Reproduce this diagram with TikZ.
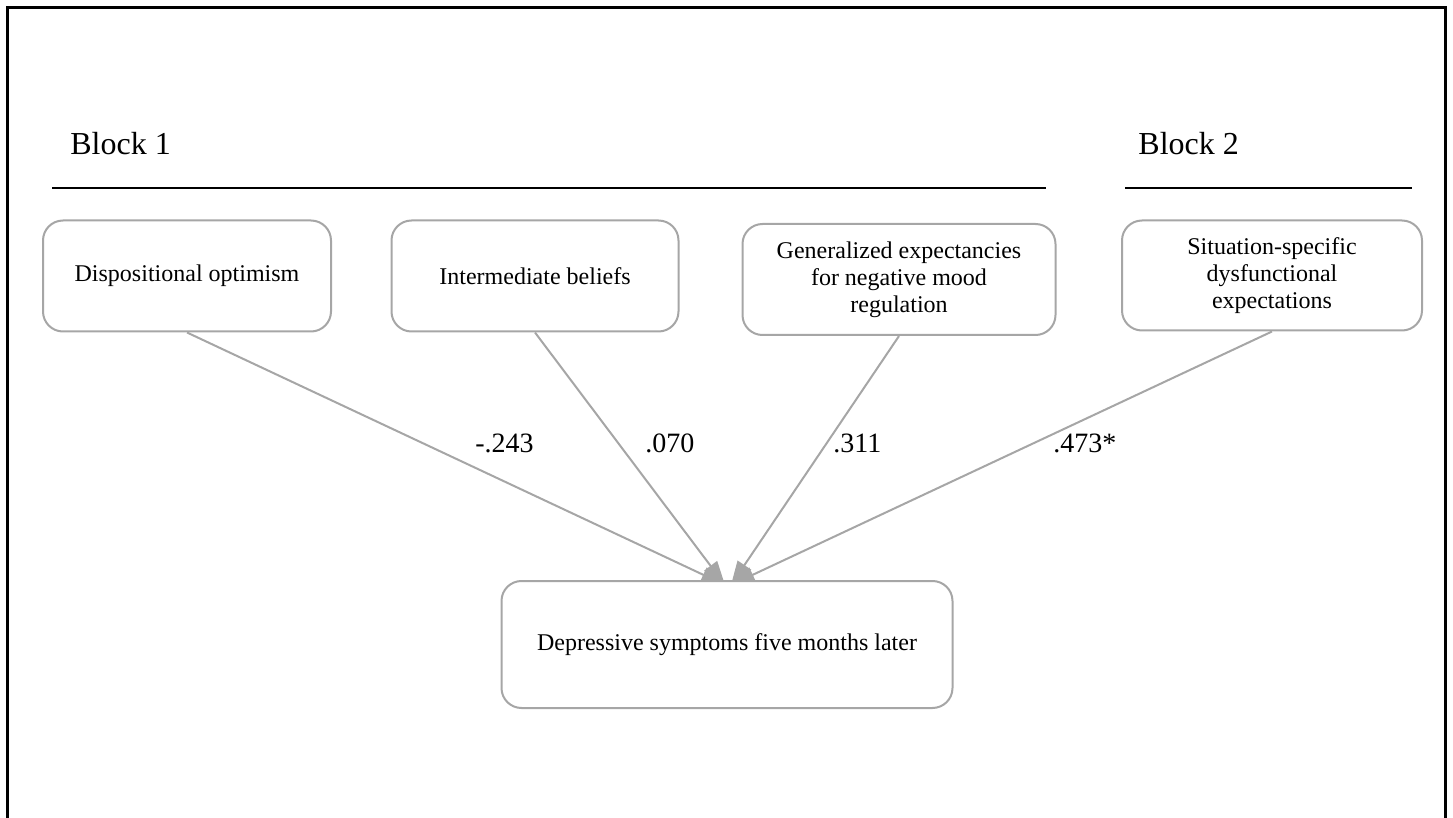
\documentclass[tikz,border=0pt]{standalone}
\usepackage{fontspec}
\setmainfont{Liberation Serif}
\usetikzlibrary{positioning}
\usetikzlibrary{arrows.meta}
\usetikzlibrary{backgrounds}

\definecolor{boxgray}{RGB}{166,166,166}
\definecolor{linegray}{RGB}{166,166,166}

\tikzset{
  varbox/.style={draw=boxgray, line width=1pt, rounded corners=10pt, fill=white, align=center, inner sep=0pt, font=\fontsize{12}{13.5}\selectfont},
  link/.style={draw=linegray, line width=1pt, -{Triangle[length=12pt,width=8pt]}},
  coef/.style={anchor=base west, inner sep=0pt, font=\fontsize{14}{16}\selectfont},
  blocklabel/.style={anchor=base west, inner sep=0pt, font=\fontsize{16}{18}\selectfont}
}

\begin{document}
\begin{tikzpicture}[x=0.5pt, y=-0.5pt]
\useasboundingbox (0,0) rectangle (1453,818);

%frame
\draw[black, line width=1.5pt] (7,818) -- (7,8) -- (1445,8) -- (1445,818);

%blocks
\node[blocklabel] (block1) at (70,155) {Block 1};
\node[blocklabel] (block2) at (1138,155) {Block 2};
\draw[black, line width=1pt] (52,188) -- (1046,188);
\draw[black, line width=1pt] (1125,188) -- (1412,188);

%predictors
\node[varbox, minimum width=144pt, minimum height=55.5pt] (optimism) at (187,276) {Dispositional optimism};
\node[varbox, minimum width=143.5pt, minimum height=55.5pt] (beliefs) at (535,276) {Intermediate beliefs};
\node[varbox, minimum width=156.5pt, minimum height=55.5pt] (mood) at (899,279.5) {Generalized expectancies\\for negative mood\\regulation};
\node[varbox, minimum width=150pt, minimum height=55pt] (situation) at (1272,275.5) {Situation-specific\\dysfunctional\\expectations};

%outcome
\node[varbox, minimum width=225.5pt, minimum height=63.5pt] (depression) at (727,644.5) {Depressive symptoms five months later};

%paths
\begin{scope}[on background layer]
\draw[link] (optimism.south) -- ([xshift=-1pt,yshift=-2.5pt]depression.north);
\draw[link] (beliefs.south) -- ([xshift=-1pt,yshift=-2.5pt]depression.north);
\draw[link] (mood.south) -- ([xshift=2pt,yshift=-2.5pt]depression.north);
\draw[link] (situation.south) -- ([xshift=2pt,yshift=-2.5pt]depression.north);
\end{scope}

%coefficients
\node[coef] (c1) at (475,453) {-.243};
\node[coef] (c2) at (645,453) {.070};
\node[coef] (c3) at (833,453) {.311};
\node[coef] (c4) at (1053,453) {.473*};

\end{tikzpicture}
\end{document}
